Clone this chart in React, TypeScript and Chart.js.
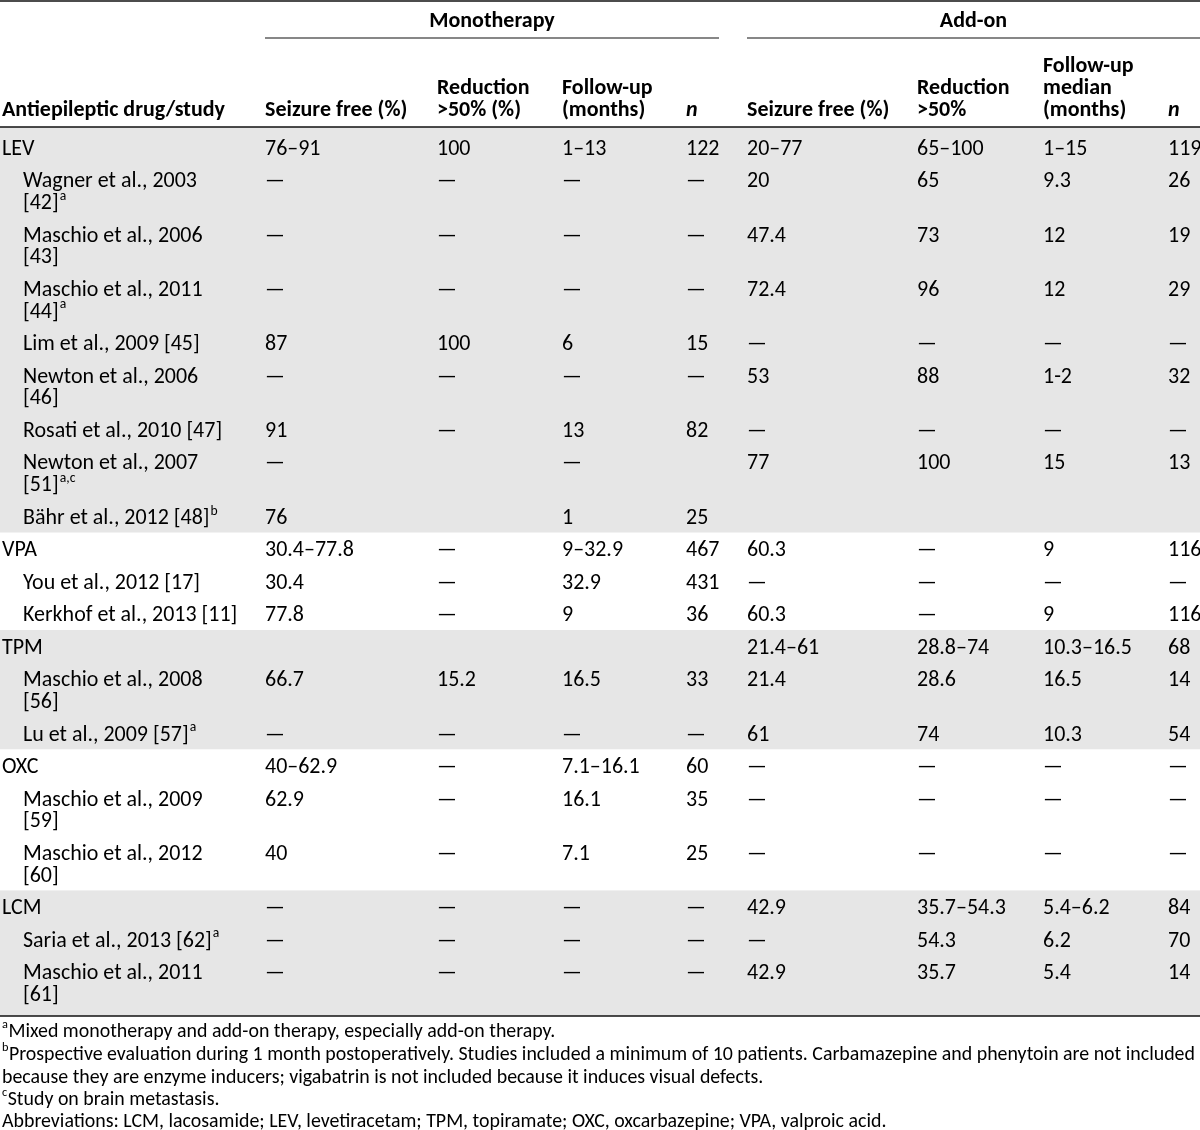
import React, { useEffect, useRef } from "react";
import { Chart, registerables } from "chart.js";

Chart.register(...registerables);

// ---------- data ----------
const spanners: string[] = ["Monotherapy", "Add-on"];

const columnHeaders: string[][] = [
  ["Antiepileptic drug/study"],
  ["Seizure free (%)"],
  ["Reduction", ">50% (%)"],
  ["Follow-up", "(months)"],
  ["n"],
  ["Seizure free (%)"],
  ["Reduction", ">50%"],
  ["Follow-up", "median", "(months)"],
  ["n"],
];

const rowLabels: string[][] = [
  ["LEV"],
  ["Wagner et al., 2003", "[42]"],
  ["Maschio et al., 2006", "[43]"],
  ["Maschio et al., 2011", "[44]"],
  ["Lim et al., 2009 [45]"],
  ["Newton et al., 2006", "[46]"],
  ["Rosati et al., 2010 [47]"],
  ["Newton et al., 2007", "[51]"],
  ["Bähr et al., 2012 [48]"],
  ["VPA"],
  ["You et al., 2012 [17]"],
  ["Kerkhof et al., 2013 [11]"],
  ["TPM"],
  ["Maschio et al., 2008", "[56]"],
  ["Lu et al., 2009 [57]"],
  ["OXC"],
  ["Maschio et al., 2009", "[59]"],
  ["Maschio et al., 2012", "[60]"],
  ["LCM"],
  ["Saria et al., 2013 [62]"],
  ["Maschio et al., 2011", "[61]"],
];

const rowSup: string[] = [
  "", "a", "", "a", "", "", "", "a,c", "b",
  "", "", "",
  "", "", "a",
  "", "", "",
  "", "a", "",
];

const rowIsDrug: boolean[] = [
  true, false, false, false, false, false, false, false, false,
  true, false, false,
  true, false, false,
  true, false, false,
  true, false, false,
];

const groupShaded: boolean[] = [true, false, true, false, true];

const monoSeizureFree: string[] = [
  "76–91", "—", "—", "—", "87", "—", "91", "—", "76",
  "30.4–77.8", "30.4", "77.8",
  "", "66.7", "—",
  "40–62.9", "62.9", "40",
  "—", "—", "—",
];
const monoReduction: string[] = [
  "100", "—", "—", "—", "100", "—", "—", "", "",
  "—", "—", "—",
  "", "15.2", "—",
  "—", "—", "—",
  "—", "—", "—",
];
const monoFollowUp: string[] = [
  "1–13", "—", "—", "—", "6", "—", "13", "—", "1",
  "9–32.9", "32.9", "9",
  "", "16.5", "—",
  "7.1–16.1", "16.1", "7.1",
  "—", "—", "—",
];
const monoN: string[] = [
  "122", "—", "—", "—", "15", "—", "82", "", "25",
  "467", "431", "36",
  "", "33", "—",
  "60", "35", "25",
  "—", "—", "—",
];
const addSeizureFree: string[] = [
  "20–77", "20", "47.4", "72.4", "—", "53", "—", "77", "",
  "60.3", "—", "60.3",
  "21.4–61", "21.4", "61",
  "—", "—", "—",
  "42.9", "—", "42.9",
];
const addReduction: string[] = [
  "65–100", "65", "73", "96", "—", "88", "—", "100", "",
  "—", "—", "—",
  "28.8–74", "28.6", "74",
  "—", "—", "—",
  "35.7–54.3", "54.3", "35.7",
];
const addFollowUp: string[] = [
  "1–15", "9.3", "12", "12", "—", "1-2", "—", "15", "",
  "9", "—", "9",
  "10.3–16.5", "16.5", "10.3",
  "—", "—", "—",
  "5.4–6.2", "6.2", "5.4",
];
const addN: string[] = [
  "119", "26", "19", "29", "—", "32", "—", "13", "",
  "116", "—", "116",
  "68", "14", "54",
  "—", "—", "—",
  "84", "70", "14",
];

const footnoteSup: string[] = ["a", "b", "", "c", ""];
const footnotes: string[] = [
  "Mixed monotherapy and add-on therapy, especially add-on therapy.",
  "Prospective evaluation during 1 month postoperatively. Studies included a minimum of 10 patients. Carbamazepine and phenytoin are not included",
  "because they are enzyme inducers; vigabatrin is not included because it induces visual defects.",
  "Study on brain metastasis.",
  "Abbreviations: LCM, lacosamide; LEV, levetiracetam; TPM, topiramate; OXC, oxcarbazepine; VPA, valproic acid.",
];

// ---------- layout (pixel units of the table scales) ----------
const W = 1200;
const H = 1130;
const FAMILY = "Carlito, Lato, 'Noto Sans', sans-serif";
const TEXT = "#000000";
const GRAY = "#e6e6e6";
const COL_X = [2, 265, 437, 562, 686, 747, 917, 1043, 1168];
const INDENT_X = 23;
const SPAN_RANGES = [
  [265, 719],
  [747, 1200],
];
const ROW_TOP = 131;
const LINE_H = 21.8;
const ROW_PAD = 10.7;
const FIRST_LINE = 16.25;
const HEADER_LINES = [64, 86, 108];
const HEADER_RULE = 127;
const BOTTOM_RULE = 1016;
const FOOT_Y = [1030, 1053, 1076, 1098, 1120];

function fitSize(ctx: CanvasRenderingContext2D, text: string, font: string, target: number) {
  ctx.font = `${font} 100px ${FAMILY}`;
  const w = ctx.measureText(text).width;
  return (100 * target) / w;
}

const tablePlugin = {
  id: "tablePlugin",
  beforeDatasetsDraw(chart: any) {
    const ctx: CanvasRenderingContext2D = chart.ctx;
    const xs = chart.scales.x;
    const ys = chart.scales.y;
    const X = (v: number) => xs.getPixelForValue(v);
    const Y = (v: number) => ys.getPixelForValue(v);

    const body = fitSize(ctx, "Wagner et al., 2003", "400", 174);
    const bold = fitSize(ctx, "Antiepileptic drug/study", "700", 223);
    const foot = fitSize(ctx, footnotes[4], "400", 885);

    ctx.save();
    ctx.fillStyle = "#ffffff";
    ctx.fillRect(X(0), Y(0), X(W) - X(0), Y(H) - Y(0));

    ctx.font = `400 ${body}px ${FAMILY}`;
    const capH = ctx.measureText("H").actualBoundingBoxAscent;
    const base = (c: number) => Y(c) + capH / 2;

    // row geometry
    const tops: number[] = [];
    const bottoms: number[] = [];
    let t = ROW_TOP;
    rowLabels.forEach((lines) => {
      tops.push(t);
      t += ROW_PAD + lines.length * LINE_H;
      bottoms.push(t);
    });

    // group bands
    const groupStarts: number[] = [];
    rowIsDrug.forEach((d, i) => d && groupStarts.push(i));
    groupStarts.forEach((s, g) => {
      const e = g + 1 < groupStarts.length ? groupStarts[g + 1] - 1 : rowLabels.length - 1;
      if (!groupShaded[g]) return;
      const top = g === 0 ? HEADER_RULE : tops[s];
      const bot = g === groupStarts.length - 1 ? BOTTOM_RULE : bottoms[e];
      ctx.fillStyle = GRAY;
      ctx.fillRect(X(0), Y(top), X(W) - X(0), Y(bot) - Y(top));
    });

    // rules
    const rule = (x0: number, x1: number, yy: number, lw: number) => {
      ctx.beginPath();
      ctx.strokeStyle = "#111111";
      ctx.lineWidth = lw;
      ctx.moveTo(X(x0), Y(yy));
      ctx.lineTo(X(x1), Y(yy));
      ctx.stroke();
    };
    rule(0, W, 1, 1.6);
    SPAN_RANGES.forEach(([a, b]) => rule(a, b, 38, 1.2));
    rule(0, W, HEADER_RULE, 1.6);
    rule(0, W, BOTTOM_RULE, 1.6);

    ctx.fillStyle = TEXT;
    ctx.textBaseline = "alphabetic";

    // spanners
    ctx.font = `700 ${bold}px ${FAMILY}`;
    ctx.textAlign = "center";
    spanners.forEach((s, i) => {
      const [a, b] = SPAN_RANGES[i];
      ctx.fillText(s, X((a + b) / 2), base(19));
    });

    // column headers (bottom aligned)
    ctx.textAlign = "left";
    columnHeaders.forEach((lines, c) => {
      const italic = lines.length === 1 && lines[0] === "n";
      ctx.font = `${italic ? "italic " : ""}700 ${bold}px ${FAMILY}`;
      lines.forEach((ln, k) => {
        const yy = HEADER_LINES[HEADER_LINES.length - lines.length + k];
        ctx.fillText(ln, X(COL_X[c]), base(yy));
      });
    });

    // body rows
    const cols = [
      monoSeizureFree, monoReduction, monoFollowUp, monoN,
      addSeizureFree, addReduction, addFollowUp, addN,
    ];
    const supSize = body * 0.62;
    rowLabels.forEach((lines, r) => {
      const c0 = tops[r] + FIRST_LINE;
      const lx = rowIsDrug[r] ? COL_X[0] : INDENT_X;
      ctx.font = `400 ${body}px ${FAMILY}`;
      lines.forEach((ln, k) => {
        const yy = c0 + k * LINE_H;
        ctx.fillText(ln, X(lx), base(yy));
        if (k === lines.length - 1 && rowSup[r]) {
          const w = ctx.measureText(ln).width;
          ctx.font = `400 ${supSize}px ${FAMILY}`;
          ctx.fillText(rowSup[r], X(lx) + w + 1, base(yy) - body * 0.42);
          ctx.font = `400 ${body}px ${FAMILY}`;
        }
      });
      cols.forEach((arr, ci) => {
        const v = arr[r];
        if (v) ctx.fillText(v, X(COL_X[ci + 1]), base(c0));
      });
    });

    // footnotes
    ctx.font = `400 ${foot}px ${FAMILY}`;
    const fcap = ctx.measureText("H").actualBoundingBoxAscent;
    footnotes.forEach((f, i) => {
      const by = Y(FOOT_Y[i]) + fcap / 2;
      let x = X(2);
      if (footnoteSup[i]) {
        ctx.font = `400 ${foot * 0.62}px ${FAMILY}`;
        ctx.fillText(footnoteSup[i], x, by - foot * 0.42);
        x += ctx.measureText(footnoteSup[i]).width + 0.5;
        ctx.font = `400 ${foot}px ${FAMILY}`;
      }
      ctx.fillText(f, x, by);
    });
    ctx.restore();
  },
};

export default function App() {
  const ref = useRef<HTMLCanvasElement | null>(null);
  useEffect(() => {
    document.body.style.margin = "0";
    const canvas = ref.current;
    if (!canvas) return;
    const chart = new Chart(canvas, {
      type: "scatter",
      data: { datasets: [{ data: [], pointRadius: 0 }] },
      options: {
        responsive: false,
        animation: false,
        devicePixelRatio: 1,
        layout: { padding: 0 },
        events: [],
        plugins: { legend: { display: false }, tooltip: { enabled: false } },
        scales: {
          x: { type: "linear", min: 0, max: W, display: false },
          y: { type: "linear", min: 0, max: H, reverse: true, display: false },
        },
      },
      plugins: [tablePlugin],
    });
    return () => chart.destroy();
  }, []);
  return (
    <canvas
      ref={ref}
      width={W}
      height={H}
      style={{ display: "block", width: W, height: H }}
    />
  );
}
